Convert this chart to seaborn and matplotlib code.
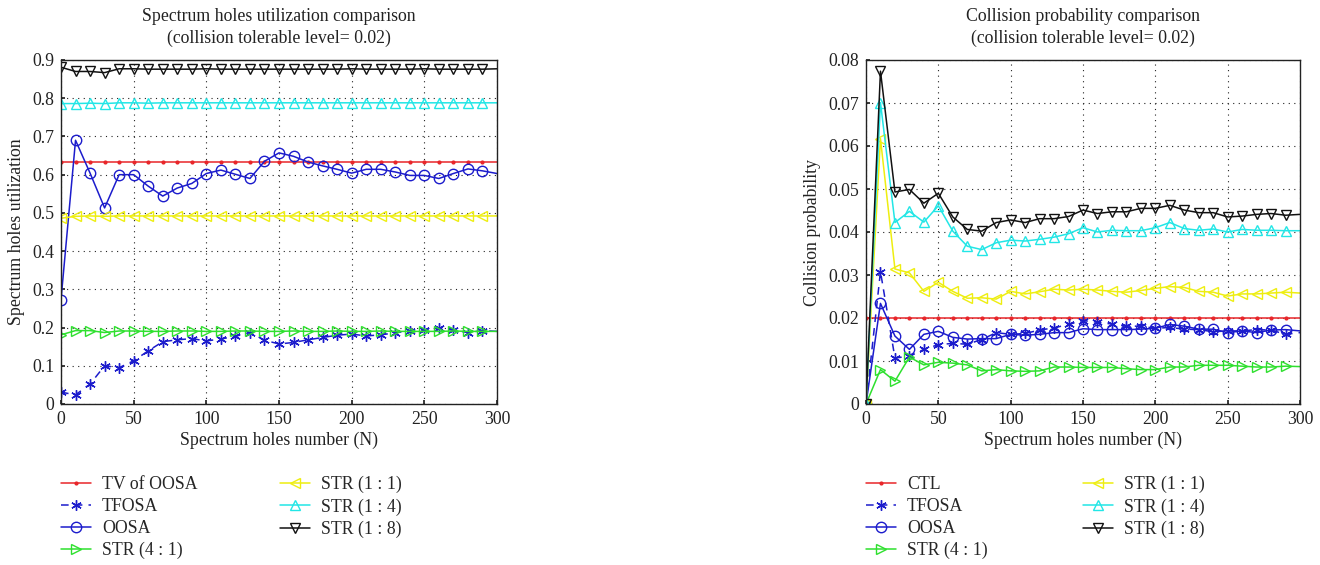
import numpy as np
import pandas as pd
import matplotlib
matplotlib.use("Agg")
import matplotlib.pyplot as plt
import seaborn as sns

# ---------------- data ----------------
N = list(range(0, 301, 10))

# Left panel: spectrum holes utilization
util_tv_oosa = [0.632] * 31
util_tfosa = [0.031, 0.024, 0.052, 0.100, 0.095, 0.113, 0.139, 0.163, 0.168, 0.171,
              0.165, 0.170, 0.177, 0.187, 0.167, 0.157, 0.161, 0.168, 0.174, 0.180,
              0.183, 0.178, 0.181, 0.186, 0.192, 0.193, 0.199, 0.193, 0.187, 0.192, 0.190]
util_oosa = [0.273, 0.690, 0.604, 0.513, 0.600, 0.600, 0.570, 0.544, 0.565, 0.577,
             0.603, 0.612, 0.601, 0.590, 0.635, 0.657, 0.648, 0.633, 0.623, 0.614,
             0.604, 0.614, 0.614, 0.607, 0.598, 0.598, 0.590, 0.603, 0.615, 0.610, 0.603]
util_str41 = [0.181, 0.192, 0.192, 0.187, 0.191, 0.191, 0.190, 0.190, 0.191, 0.191,
              0.190, 0.190, 0.191, 0.191, 0.190, 0.190, 0.191, 0.190, 0.190, 0.191,
              0.190, 0.190, 0.191, 0.190, 0.190, 0.190, 0.190, 0.191, 0.190, 0.190, 0.190]
util_str11 = [0.486, 0.491, 0.492, 0.491, 0.492, 0.492, 0.492, 0.492, 0.492, 0.492,
              0.492, 0.492, 0.492, 0.492, 0.492, 0.492, 0.492, 0.492, 0.492, 0.492,
              0.492, 0.492, 0.492, 0.492, 0.492, 0.492, 0.492, 0.492, 0.492, 0.492, 0.492]
util_str14 = [0.786, 0.786, 0.787, 0.786, 0.788, 0.788, 0.787, 0.788, 0.788, 0.788,
              0.788, 0.788, 0.788, 0.788, 0.788, 0.788, 0.788, 0.788, 0.788, 0.788,
              0.788, 0.788, 0.788, 0.788, 0.788, 0.788, 0.788, 0.788, 0.788, 0.788, 0.788]
util_str18 = [0.881, 0.870, 0.870, 0.867, 0.877, 0.877, 0.876, 0.876, 0.876, 0.876,
              0.877, 0.876, 0.876, 0.876, 0.876, 0.876, 0.876, 0.876, 0.876, 0.876,
              0.877, 0.876, 0.876, 0.876, 0.876, 0.877, 0.876, 0.876, 0.876, 0.876, 0.877]

# Right panel: collision probability
coll_ctl = [0.020] * 31
coll_tfosa = [0.0, 0.0308, 0.0107, 0.0111, 0.0127, 0.0138, 0.0141, 0.0139, 0.0150, 0.0166,
              0.0162, 0.0164, 0.0172, 0.0177, 0.0185, 0.0194, 0.0190, 0.0186, 0.0181, 0.0181,
              0.0176, 0.0178, 0.0174, 0.0173, 0.0168, 0.0170, 0.0170, 0.0173, 0.0172, 0.0162, 0.0166]
coll_oosa = [0.0, 0.0234, 0.0158, 0.0127, 0.0162, 0.0169, 0.0155, 0.0151, 0.0152, 0.0152,
             0.0162, 0.0160, 0.0162, 0.0166, 0.0166, 0.0175, 0.0173, 0.0173, 0.0173, 0.0174,
             0.0176, 0.0185, 0.0181, 0.0174, 0.0174, 0.0166, 0.0170, 0.0166, 0.0172, 0.0173, 0.0170]
coll_str41 = [0.0, 0.0080, 0.0053, 0.0109, 0.0091, 0.0097, 0.0095, 0.0091, 0.0077, 0.0080,
              0.0077, 0.0076, 0.0077, 0.0086, 0.0086, 0.0085, 0.0085, 0.0085, 0.0082, 0.0080,
              0.0080, 0.0086, 0.0086, 0.0090, 0.0090, 0.0090, 0.0088, 0.0086, 0.0086, 0.0088, 0.0087]
coll_str11 = [0.0, 0.0617, 0.0314, 0.0305, 0.0262, 0.0283, 0.0262, 0.0246, 0.0247, 0.0244,
              0.0262, 0.0256, 0.0261, 0.0267, 0.0265, 0.0267, 0.0265, 0.0262, 0.0260, 0.0264,
              0.0269, 0.0273, 0.0271, 0.0262, 0.0260, 0.0251, 0.0256, 0.0256, 0.0258, 0.0260, 0.0258]
coll_str14 = [0.0, 0.0701, 0.0422, 0.0448, 0.0423, 0.0461, 0.0402, 0.0367, 0.0359, 0.0375,
              0.0381, 0.0379, 0.0383, 0.0388, 0.0396, 0.0410, 0.0400, 0.0404, 0.0403, 0.0403,
              0.0410, 0.0422, 0.0408, 0.0404, 0.0407, 0.0400, 0.0406, 0.0404, 0.0404, 0.0403, 0.0403]
coll_str18 = [0.0, 0.0774, 0.0493, 0.0499, 0.0467, 0.0490, 0.0435, 0.0406, 0.0402, 0.0422,
              0.0428, 0.0422, 0.0431, 0.0431, 0.0436, 0.0451, 0.0443, 0.0447, 0.0447, 0.0455,
              0.0455, 0.0462, 0.0451, 0.0445, 0.0445, 0.0435, 0.0437, 0.0441, 0.0443, 0.0439, 0.0441]

left_labels = ["TV of OOSA", "TFOSA", "OOSA", "STR (4 : 1)", "STR (1 : 1)", "STR (1 : 4)", "STR (1 : 8)"]
right_labels = ["CTL", "TFOSA", "OOSA", "STR (4 : 1)", "STR (1 : 1)", "STR (1 : 4)", "STR (1 : 8)"]

# ---------------- style ----------------
sns.set_theme(style="white")
plt.rcParams['font.family'] = ['Liberation Serif', 'DejaVu Serif']

RED = "#e8262a"
BLUE = "#1c1ccc"
GREEN = "#2ee02e"
YELLOW = "#eeee10"
CYAN = "#22e6e6"
BLACK = "#111111"

ASTER = (6, 2, 0)
styles = [
    dict(color=RED, marker=".", ms=4, ls="-", mfc=RED),
    dict(color=BLUE, marker=ASTER, ms=7.5, ls=(0, (5, 4)), mfc=BLUE),
    dict(color=BLUE, marker="o", ms=7.5, ls="-", mfc="none"),
    dict(color=GREEN, marker=">", ms=7.5, ls="-", mfc="none"),
    dict(color=YELLOW, marker="<", ms=7.5, ls="-", mfc="none"),
    dict(color=CYAN, marker="^", ms=7.5, ls="-", mfc="none"),
    dict(color=BLACK, marker="v", ms=7.5, ls="-", mfc="none"),
]

fig = plt.figure(figsize=(13.2, 5.65), dpi=100)
axL = fig.add_axes([61/1320, 1-404/565, 436/1320, 344/565])
axR = fig.add_axes([866/1320, 1-404/565, 434/1320, 344/565])

FS = 12.8
TXT = "#222222"


def draw(ax, series, labels, ymax, ystep, ylabel, title, lx1, lx2):
    for vals, lab, st in zip(series, labels, styles):
        df = pd.DataFrame({"N": N, "v": vals})
        sns.lineplot(data=df, x="N", y="v", ax=ax, label=lab, color=st["color"])
        ln = ax.lines[-1]
        ln.set_linestyle(st["ls"])
        ln.set_linewidth(1.1)
        ln.set_marker(st["marker"])
        ln.set_markersize(st["ms"])
        ln.set_markerfacecolor(st["mfc"])
        ln.set_markeredgecolor(st["color"])
        ln.set_markeredgewidth(1.0)
        ln.set_markevery(slice(0, 30))
    ax.set_xlim(0, 300)
    ax.set_ylim(0, ymax)
    ax.set_xticks(range(0, 301, 50))
    yt = np.round(np.arange(0, ymax + ystep / 2, ystep), 4)
    ax.set_yticks(yt)
    ax.set_yticklabels([("0" if v == 0 else f"{v:g}") for v in yt])
    ax.grid(True, color=TXT, linestyle=(0, (1, 4)), linewidth=0.8)
    for s in ax.spines.values():
        s.set_color(TXT)
        s.set_linewidth(1.0)
    ax.tick_params(direction="in", length=3, labelsize=FS, colors=TXT,
                   labelcolor=TXT, pad=5, bottom=True, left=True)
    ax.set_xlabel("Spectrum holes number (N)", fontsize=FS, color=TXT, labelpad=3)
    ax.set_ylabel(ylabel, fontsize=FS, color=TXT, labelpad=5)
    ax.set_title(title, fontsize=FS, color=TXT, pad=12, linespacing=1.42)
    ax.get_legend().remove()
    h = ax.lines[:7]
    common = dict(loc="upper left", frameon=False, fontsize=FS, handlelength=1.7,
                  handletextpad=0.6, labelspacing=0.28, borderaxespad=0, borderpad=0)
    fig.legend(h[:4], labels[:4], bbox_to_anchor=(lx1, 1 - 476/565), **common)
    fig.legend(h[4:], labels[4:], bbox_to_anchor=(lx2, 1 - 476/565), **common)


draw(axL, [util_tv_oosa, util_tfosa, util_oosa, util_str41, util_str11, util_str14, util_str18],
     left_labels, 0.9, 0.1, "Spectrum holes utilization",
     "Spectrum holes utilization comparison\n(collision tolerable level= 0.02)",
     61/1320, 280/1320)
draw(axR, [coll_ctl, coll_tfosa, coll_oosa, coll_str41, coll_str11, coll_str14, coll_str18],
     right_labels, 0.08, 0.01, "Collision probability",
     "Collision probability comparison\n(collision tolerable level= 0.02)",
     866/1320, 1083/1320)

fig.savefig("out.png", dpi=100, facecolor="white")
